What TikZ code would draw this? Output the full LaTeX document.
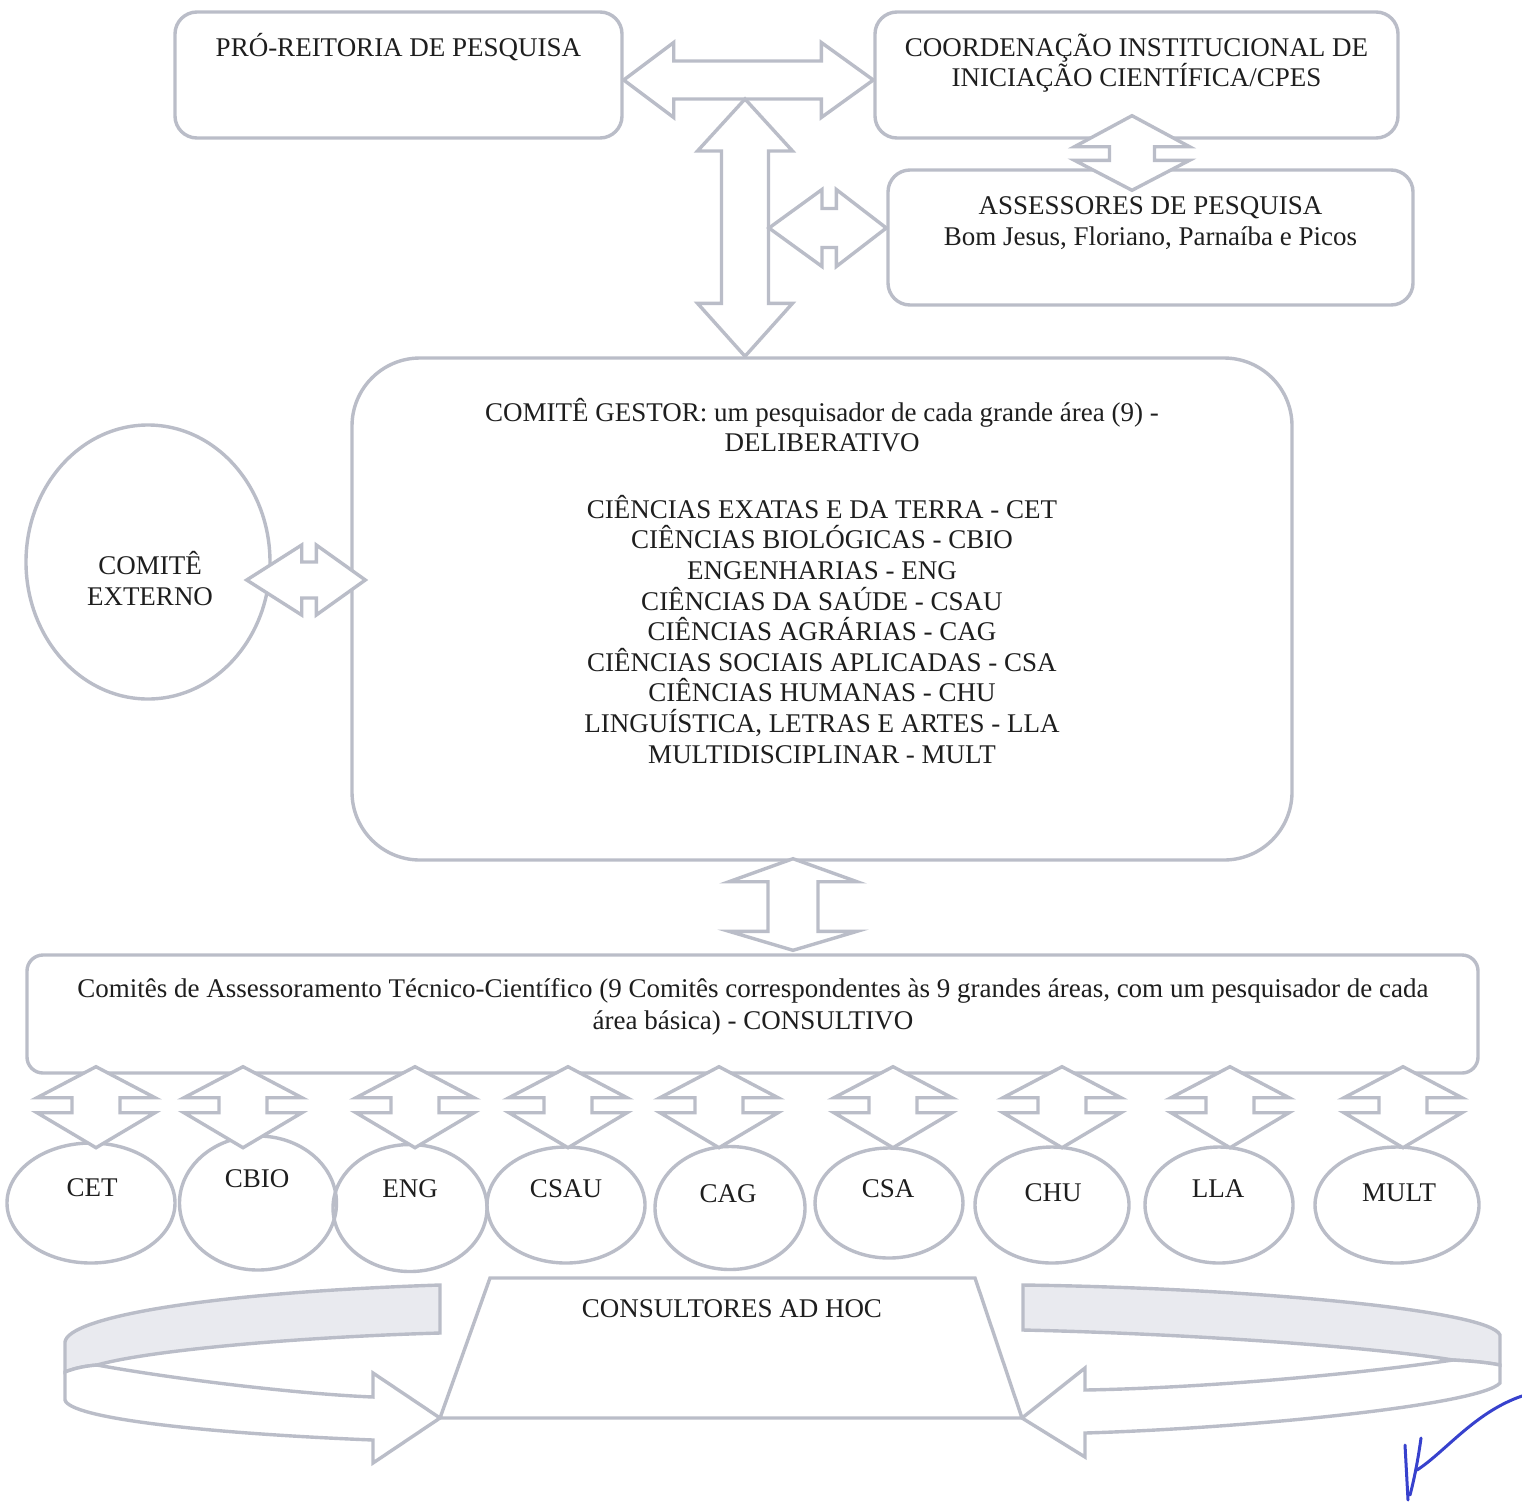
\documentclass[tikz,border=0pt]{standalone}
\usepackage{fontspec}
\setmainfont{Liberation Serif}
\usetikzlibrary{calc,shapes.geometric}
\definecolor{lc}{RGB}{186,189,200}
\definecolor{bandfill}{RGB}{233,234,239}
\definecolor{txt}{RGB}{30,30,30}
\definecolor{sig}{RGB}{55,65,205}
\newcommand\tstrut{\rule{0pt}{26pt}}
\newcommand\tightfont[1]{\fontsize{27}{#1}\selectfont\lineskiplimit=-60pt\relax}
% horizontal double block arrow: #1 left tip, #2 right tip, #3 head half width, #4 shaft half width, #5 left head length, #6 right head length
\newcommand\harr[6]{%
 \draw[blk] let \p1=#1, \p2=#2 in (\x1,\y1) -- ++(#5pt,#3pt) -- ++(0pt,#4pt-#3pt) -- (\x2-#6pt,\y1+#4pt) -- ++(0pt,#3pt-#4pt) -- (\x2,\y1) -- ++(-#6pt,-#3pt) -- ++(0pt,#3pt-#4pt) -- (\x1+#5pt,\y1-#4pt) -- ++(0pt,#4pt-#3pt) -- cycle;}
% vertical double block arrow: #1 top tip, #2 bottom tip
\newcommand\varr[6]{%
 \draw[blk] let \p1=#1, \p2=#2 in (\x1,\y1) -- ++(#3pt,-#5pt) -- ++(#4pt-#3pt,0pt) -- (\x1+#4pt,\y2+#6pt) -- ++(#3pt-#4pt,0pt) -- (\x1,\y2) -- ++(-#3pt,#6pt) -- ++(#3pt-#4pt,0pt) -- (\x1-#4pt,\y1-#5pt) -- ++(#4pt-#3pt,0pt) -- cycle;}
\begin{document}
\begin{tikzpicture}[x=1pt,y=-1pt,
  box/.style={draw=lc, line width=3.4pt, rounded corners=#1, inner sep=0pt},
  box/.default=22pt,
  ell/.style={draw=lc, line width=3.4pt, ellipse, inner sep=0pt},
  blk/.style={draw=lc, line width=3.4pt, fill=white, line join=miter},
  tx/.style={text=txt, inner sep=0pt, align=center, anchor=north, font={\tightfont{#1}}},
  tx/.default=30.6,
  lab/.style={text=txt, inner sep=0pt, anchor=base, font={\tightfont{30.6}}}]
\fill[white] (0,0) rectangle (1522,1502);
\useasboundingbox (0,0) rectangle (1522,1502);

% boxes
\node[box, minimum width=447pt, minimum height=126pt] (pro) at (398.5,75) {};
\node[box, minimum width=523pt, minimum height=126pt] (coord) at (1136.5,75) {};
\node[box, minimum width=525pt, minimum height=135pt] (asses) at (1150.5,237.5) {};
\node[box=68pt, minimum width=940pt, minimum height=502pt] (gestor) at (822,609) {};
\node[ell, minimum width=244pt, minimum height=274pt] (externo) at (148,562) {};
\node[box=16pt, minimum width=1451pt, minimum height=118pt] (tec) at (752.5,1014) {};
\foreach \nm/\x/\y/\w/\h in {cet/91/1203/168/120, cbio/258/1203/157/134, eng/410/1208/154/127, csau/566/1205/158/116, cag/730/1208/150/123, csa/889/1203/148/110, chu/1052/1205/154/116, lla/1219/1205/148/116, mult/1397/1205/164/116}
  {\node[ell, minimum width=\w pt, minimum height=\h pt] (\nm) at (\x,\y) {};}
% trapezoid CONSULTORES AD HOC
\coordinate (adTL) at (490,1278);
\coordinate (adTR) at (975,1278);
\coordinate (adBR) at (1022,1418);
\coordinate (adBL) at (440,1418);
\draw[draw=lc, line width=3.4pt, line join=miter] (adTL) -- (adTR) -- (adBR) -- (adBL) -- cycle;

% block arrows
\harr{($(pro.east)+(0,5)$)}{($(coord.west)+(0,5)$)}{37.5}{19}{50}{52}
\coordinate (vtop) at (745,99);
\varr{(vtop)}{(vtop |- gestor.north)}{47.5}{23.5}{52}{53}
\harr{($(vtop)+(24,129)$)}{($(asses.west)+(0,-9.5)$)}{38.5}{19.5}{53}{50}
\varr{($(coord.south)+(-4.5,-24)$)}{($(asses.north)+(-18.5,22)$)}{57.5}{22.5}{31}{30}
\harr{($(externo.east)+(-25,18)$)}{($(gestor.west)+(15,-29)$)}{35}{18}{55}{49}
\varr{($(gestor.south)+(-29,-3)$)}{($(tec.north)+(40.5,-3)$)}{64}{25}{23}{19}
\foreach \nm/\dx in {cet/5, cbio/-15, eng/5, csau/2, cag/-11, csa/4, chu/10, lla/11, mult/6}
  {\varr{($(tec.south -| \nm.north)+(\dx,-8)$)}{($(tec.south -| \nm.north)+(\dx,73)$)}{59}{24}{31}{35}}

% curved arrow, left
\draw[draw=lc, line width=3.4pt, fill=bandfill, line join=miter]
  (440,1285) .. controls (200,1293) and (68,1318) .. (65,1342) -- (65,1372)
  .. controls (75,1368) and (85,1366) .. (97,1365)
  .. controls (150,1350) and (300,1337) .. (440,1333) -- cycle;
\draw[draw=lc, line width=3.4pt, fill=white, line join=miter]
  (97,1365) .. controls (180,1380) and (300,1394) .. (373,1397) -- (373,1373) -- (adBL) -- (373,1463) -- (373,1440)
  .. controls (200,1433) and (70,1418) .. (65,1400) -- (65,1372)
  .. controls (75,1368) and (85,1366) .. (97,1365) -- cycle;
% curved arrow, right
\draw[draw=lc, line width=3.4pt, fill=bandfill, line join=miter]
  (1023,1285) .. controls (1250,1288) and (1490,1310) .. (1500,1335) -- (1500,1365)
  .. controls (1485,1362) and (1470,1361) .. (1453,1360)
  .. controls (1380,1348) and (1200,1334) .. (1023,1330) -- cycle;
\draw[draw=lc, line width=3.4pt, fill=white, line join=miter]
  (1453,1360) .. controls (1350,1375) and (1200,1388) .. (1085,1390) -- (1085,1368) -- (adBR) -- (1085,1457) -- (1085,1433)
  .. controls (1250,1428) and (1480,1405) .. (1500,1383) -- (1500,1365)
  .. controls (1485,1362) and (1470,1361) .. (1453,1360) -- cycle;

% signature
\draw[sig, line width=3pt, line cap=round]
  (1522,1396) .. controls (1475,1412) and (1445,1452) .. (1417,1470);
\draw[sig, line width=3pt, line cap=round] (1405,1445) -- (1408,1500);
\draw[sig, line width=3pt, line cap=round] (1421,1438) .. controls (1418,1460) and (1414,1480) .. (1410,1495);

% texts
\node[lab] (proT) at (398.5,56) {PRÓ-REITORIA DE PESQUISA};
\node[tx=30] (coordT) at (1136.5,30) {\tstrut COORDENAÇÃO INSTITUCIONAL DE\\INICIAÇÃO CIENTÍFICA/CPES};
\node[tx=31] (assesT) at (1150.5,188) {\tstrut ASSESSORES DE PESQUISA\\Bom Jesus, Floriano, Parnaíba e Picos};
\node[tx=30] (gestorT) at (822,395) {\tstrut COMITÊ GESTOR: um pesquisador de cada grande área (9) -\\DELIBERATIVO};
\node[tx] (listT) at (822,492) {\tstrut CIÊNCIAS EXATAS E DA TERRA - CET\\CIÊNCIAS BIOLÓGICAS - CBIO\\ENGENHARIAS - ENG\\CIÊNCIAS DA SAÚDE - CSAU\\CIÊNCIAS AGRÁRIAS - CAG\\CIÊNCIAS SOCIAIS APLICADAS - CSA\\CIÊNCIAS HUMANAS - CHU\\LINGUÍSTICA, LETRAS E ARTES - LLA\\MULTIDISCIPLINAR - MULT};
\node[tx=31] (externoT) at (150,548) {\tstrut COMITÊ\\EXTERNO};
\node[tx=32] (tecT) at (753,971) {\tstrut Comitês de Assessoramento Técnico-Científico (9 Comitês correspondentes às 9 grandes áreas, com um pesquisador de cada\\área básica) - CONSULTIVO};
\node[lab] (adhocT) at (732,1317) {CONSULTORES AD HOC};
\foreach \nm/\tt/\x/\y in {cet/CET/92/1196, cbio/CBIO/257/1187, eng/ENG/410/1197, csau/CSAU/566/1197, cag/CAG/728/1202, csa/CSA/888/1197, chu/CHU/1053/1201, lla/LLA/1218/1197, mult/MULT/1399/1201}
  {\node[lab] (\nm T) at (\x,\y) {\tt};}
\end{tikzpicture}
\end{document}
